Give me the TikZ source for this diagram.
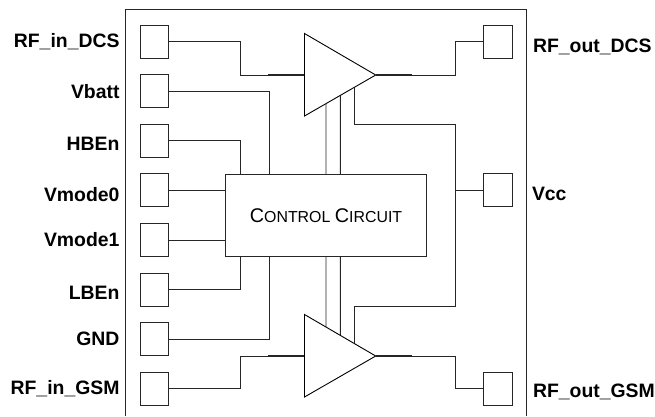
\documentclass[tikz,border=0pt]{standalone}
\usepackage{fontspec}
\setmainfont{Liberation Sans}
\usetikzlibrary{calc}
\newcommand{\bigC}{\fontsize{19.8}{22}\selectfont C\fontsize{15.9}{22}\selectfont}
\tikzset{
  wire/.style={draw=black!85,line width=0.9pt,line join=miter},
  hot/.style={draw=black!85,line width=1.3pt},
  pin/.style={draw=black!85,line width=0.9pt,fill=white,minimum width=28.6pt,minimum height=33pt,inner sep=0pt,outer sep=0pt},
  lab/.style={font=\fontsize{19.4}{22}\selectfont\bfseries,inner sep=0pt,outer sep=0pt},
  leftlab/.style={lab,anchor=base east},
  rightlab/.style={lab,anchor=base west},
  ampshape/.style={draw=black,line width=0.9pt,fill=white,line join=miter}
}
\begin{document}
\begin{tikzpicture}[x=1pt,y=-1pt]
\useasboundingbox (0,0) rectangle (655,416);
% package outline, open at the bottom
\coordinate (fbl) at (125.5,416);
\coordinate (ftl) at (125.5,9);
\coordinate (ftr) at (526,9);
\coordinate (fbr) at (526,416);
\draw[wire] (fbl) -- (ftl) -- (ftr) -- (fbr);
% pins
\foreach \n/\y in {p1/41.5,p2/91,p3/140.7,p4/190.4,p5/240,p6/289.6,p7/339.2,p8/388.7}
  \node[pin] (\n) at (154.3,\y) {};
\foreach \n/\y in {q1/41.5,q2/190.4,q3/388.7}
  \node[pin] (\n) at (497.8,\y) {};
% control
\node[draw=black!85,line width=0.9pt,minimum width=200.4pt,minimum height=82.7pt,inner sep=0pt,outer sep=0pt,fill=white] (ctl) at (326,215.3)
  {\bigC ONTROL \bigC IRCUIT};
% amplifiers
\coordinate (a1t) at (304.5,33.5);
\coordinate (a1b) at (304.5,116);
\coordinate (a1o) at (375.7,75);
\coordinate (a1i) at (304.5,75);
\coordinate (a2t) at (304.5,314.5);
\coordinate (a2b) at (304.5,397);
\coordinate (a2o) at (375.7,356);
\coordinate (a2i) at (304.5,356);
% connectors
\draw[wire] (p1.east) -| (240,75) -- (a1i);
\draw[wire] (p2.east) -| (269,174);
\draw[wire] (p3.east) -| (240,174);
\draw[wire] (p4.east) -- (ctl.west |- p4.east);
\draw[wire] (p5.east) -- (ctl.west |- p5.east);
\draw[wire] (p6.east) -| (240,256.7);
\draw[wire] (p7.east) -| (269,256.7);
\draw[wire] (p8.east) -| (240,356) -- (a2i);
\draw[hot] (268,75) -- (a1i);
\draw[hot] (268,356) -- (a2i);
\draw[hot] (a1o) -- (412,75);
\draw[hot] (a2o) -- (412,356);
\draw[wire] (a1o) -- (455,75) |- (q1.west);
\draw[wire] (a2o) -- (455,356) |- (q3.west);
\draw[wire] (q2.west) -- (455,190.4);
\draw[wire] ($(a1b)!0.699!(a1o)$) |- (455,124) -- (455,306) -| ($(a2t)!0.699!(a2o)$);
\foreach \x/\t in {326/0.302,340.3/0.503}{
  \draw[wire] ($(a1b)!\t!(a1o)$) -- (\x,174);
  \draw[wire] (\x,256.7) -- ($(a2t)!\t!(a2o)$);
}
\draw[ampshape] (a1t) -- (a1o) -- (a1b) -- cycle;
\draw[ampshape] (a2t) -- (a2o) -- (a2b) -- cycle;
% labels
\node[leftlab] (l1) at (119.5,47) {RF\_in\_DCS};
\node[leftlab] (l2) at (119.5,98.5) {Vbatt};
\node[leftlab] (l3) at (119.5,150.5) {HBEn};
\node[leftlab] (l4) at (119.5,201) {Vmode0};
\node[leftlab] (l5) at (119.5,246.5) {Vmode1};
\node[leftlab] (l6) at (119.5,299.5) {LBEn};
\node[leftlab] (l7) at (119.5,345) {GND};
\node[leftlab] (l8) at (119.5,394) {RF\_in\_GSM};
\node[rightlab] (r1) at (533,52) {RF\_out\_DCS};
\node[rightlab] (r2) at (532,200.5) {Vcc};
\node[rightlab] (r3) at (533,397) {RF\_out\_GSM};
\end{tikzpicture}
\end{document}
